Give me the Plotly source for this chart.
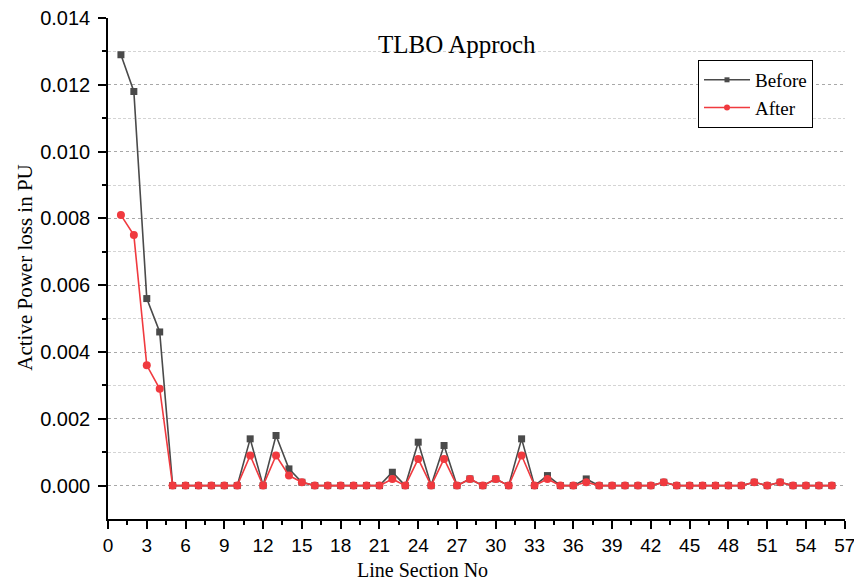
import plotly.graph_objects as go

line_section = list(range(1, 57))
before = [0.0129, 0.0118, 0.0056, 0.0046, 0, 0, 0, 0, 0, 0,
          0.0014, 0, 0.0015, 0.0005, 0.0001, 0, 0, 0, 0, 0,
          0, 0.0004, 0, 0.0013, 0, 0.0012, 0, 0.0002, 0, 0.0002,
          0, 0.0014, 0, 0.0003, 0, 0, 0.0002, 0, 0, 0,
          0, 0, 0.0001, 0, 0, 0, 0, 0, 0, 0.0001,
          0, 0.0001, 0, 0, 0, 0]
after = [0.0081, 0.0075, 0.0036, 0.0029, 0, 0, 0, 0, 0, 0,
         0.0009, 0, 0.0009, 0.0003, 0.0001, 0, 0, 0, 0, 0,
         0, 0.0002, 0, 0.0008, 0, 0.0008, 0, 0.0002, 0, 0.0002,
         0, 0.0009, 0, 0.0002, 0, 0, 0.0001, 0, 0, 0,
         0, 0, 0.0001, 0, 0, 0, 0, 0, 0, 0.0001,
         0, 0.0001, 0, 0, 0, 0]
x_ticks = list(range(0, 58, 3))
y_ticks = [0.000, 0.002, 0.004, 0.006, 0.008, 0.010, 0.012, 0.014]

serif = "Liberation Serif, Times New Roman, serif"
sans = "Liberation Sans, Arial, sans-serif"
c_before = "#4a4a4a"
c_after = "#f03a3f"

fig = go.Figure()
fig.add_trace(go.Scatter(
    x=line_section, y=before, name="Before", mode="lines+markers",
    line=dict(color=c_before, width=1.6),
    marker=dict(symbol="square", size=7, color=c_before), showlegend=False,
))
fig.add_trace(go.Scatter(
    x=line_section, y=after, name="After", mode="lines+markers",
    line=dict(color=c_after, width=1.6),
    marker=dict(symbol="circle", size=8, color=c_after), showlegend=False,
))
# legend entries (smaller symbols, as in the reference)
fig.add_trace(go.Scatter(
    x=[None], y=[None], name="Before", mode="lines+markers",
    line=dict(color=c_before, width=1.6),
    marker=dict(symbol="square", size=5, color=c_before),
))
fig.add_trace(go.Scatter(
    x=[None], y=[None], name="After", mode="lines+markers",
    line=dict(color=c_after, width=1.6),
    marker=dict(symbol="circle", size=6, color=c_after),
))

fig.update_layout(
    width=854, height=585,
    margin=dict(l=108, r=9, t=18, b=65.5, autoexpand=False),
    paper_bgcolor="white", plot_bgcolor="white",
    showlegend=True,
    legend=dict(
        x=(698 - 108) / 737, y=(519.5 - 60) / 501.5, xanchor="left", yanchor="top",
        bordercolor="black", borderwidth=1, bgcolor="white",
        font=dict(family=serif, size=19, color="black"),
        tracegroupgap=0, itemwidth=46,
    ),
    xaxis=dict(
        range=[0, 57.02], showline=True, linecolor="black", linewidth=1.5,
        tickmode="array", tickvals=x_ticks, ticks="outside", ticklen=8,
        tickwidth=1.5, tickcolor="black", showgrid=False, zeroline=False,
        ticklabeloverflow="allow", automargin=False,
        tickfont=dict(family=sans, size=19, color="black"),
        minor=dict(dtick=1.5, tick0=0, ticks="outside", ticklen=4,
                   tickwidth=1.5, tickcolor="black", showgrid=False),
    ),
    yaxis=dict(
        range=[-0.001, 0.014], showline=True, linecolor="black", linewidth=1.5,
        tickmode="array", tickvals=y_ticks, tickformat=".3f",
        ticks="outside", ticklen=8, tickwidth=1.5, tickcolor="black",
        ticklabelstandoff=4, automargin=False,
        showgrid=True, gridcolor="#a8a8a8", griddash="dot", gridwidth=1,
        zeroline=False,
        tickfont=dict(family=sans, size=20, color="black"),
        minor=dict(tickvals=[0.001, 0.003, 0.005, 0.007, 0.009, 0.011, 0.013],
                   ticks="outside", ticklen=4, tickwidth=1.5, tickcolor="black",
                   showgrid=True, gridcolor="#d4d4d4", griddash="3px,2px", gridwidth=1),
    ),
    annotations=[
        dict(text="TLBO Approch", xref="paper", yref="paper", x=(457 - 108) / 737,
             y=(519.5 - 45) / 501.5, xanchor="center", yanchor="middle",
             showarrow=False, font=dict(family=serif, size=25, color="black")),
        dict(text="Line Section No", xref="paper", yref="paper", x=(422 - 108) / 737,
             y=(519.5 - 571) / 501.5, xanchor="center", yanchor="middle",
             showarrow=False, font=dict(family=serif, size=20, color="black")),
        dict(text="Active Power loss in PU", xref="paper", yref="paper",
             x=(25 - 108) / 737, y=(519.5 - 268) / 501.5, textangle=-90,
             xanchor="center", yanchor="middle", showarrow=False,
             font=dict(family=serif, size=21, color="black")),
    ],
)

fig.write_html("out.html")
